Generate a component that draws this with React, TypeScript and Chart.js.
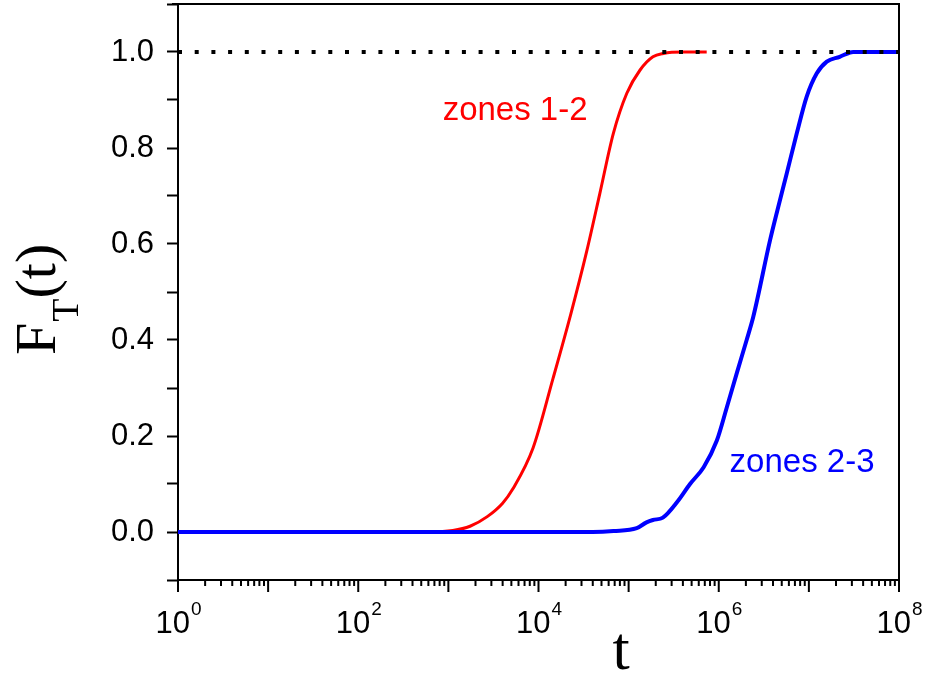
import React, { useEffect, useRef } from "react";
import { Chart, registerables } from "chart.js";
Chart.register(...registerables);

// ---- data ----
const redT = [1, 6.3e2, 1.12e3, 1.74e3, 2.7e3, 4.0e3, 5.2e3, 8.7e3, 1.45e4, 2.29e4, 3.43e4, 4.79e4, 6.76e4, 9.55e4, 1.34e5, 1.86e5, 2.43e5, 3.98e5, 7.35e5];
const redF = [0, 0, 0.003, 0.012, 0.032, 0.06, 0.09, 0.175, 0.32, 0.455, 0.585, 0.705, 0.83, 0.914, 0.9625, 0.99, 0.997, 1.0, 1.0];

const blueT = [1, 4.0e4, 6.8e4, 1.23e5, 1.58e5, 1.86e5, 2.4e5, 3.47e5, 4.8e5, 6.8e5, 9.5e5, 1.23e6, 1.58e6, 2.04e6, 2.42e6, 3.71e6, 4.47e6, 5.68e6, 7.33e6, 9.46e6, 1.22e7, 1.58e7, 2.2e7, 2.86e7, 3.1e7, 1e8];
const blueF = [0, 0, 0.002, 0.008, 0.02, 0.025, 0.03, 0.063, 0.1, 0.135, 0.19, 0.26, 0.33, 0.4, 0.449, 0.608, 0.67, 0.747, 0.83, 0.907, 0.955, 0.98, 0.99, 0.999, 1.0, 1.0];

const refT = [1, 1e8];
const refF = [1, 1];

const yTickValues = [0, 0.2, 0.4, 0.6, 0.8, 1.0];
const xLabelExponents = [0, 2, 4, 6, 8];
const xDecades = [0, 1, 2, 3, 4, 5, 6, 7, 8];
const minorMultipliers = [2, 3, 4, 5, 6, 7, 8, 9];

const annotations = [
  { text: "zones 1-2", t: 5.5e3, f: 0.858, color: "#ff0000" },
  { text: "zones 2-3", t: 8.4e6, f: 0.125, color: "#0000ff" },
];

const SANS = '"Liberation Sans", Arial, sans-serif';
const SERIF = '"Liberation Serif", "Times New Roman", serif';

const decorPlugin = {
  id: "decor",
  afterDatasetsDraw(chart: any) {
    const { ctx, chartArea } = chart;
    const xs = chart.scales.x;
    const ys = chart.scales.y;
    ctx.save();
    // top & right frame
    ctx.strokeStyle = "#000";
    ctx.lineWidth = 2;
    ctx.beginPath();
    ctx.moveTo(chartArea.left - 6, chartArea.top);
    ctx.lineTo(chartArea.right, chartArea.top);
    ctx.lineTo(chartArea.right, chartArea.bottom);
    ctx.stroke();

    // x ticks
    const b = chartArea.bottom;
    ctx.beginPath();
    xDecades.forEach((d) => {
      const px = xs.getPixelForValue(Math.pow(10, d));
      ctx.moveTo(px, b);
      ctx.lineTo(px, b + 12);
      if (d < 8) {
        minorMultipliers.forEach((m) => {
          const mx = xs.getPixelForValue(m * Math.pow(10, d));
          ctx.moveTo(mx, b);
          ctx.lineTo(mx, b + 6);
        });
      }
    });
    ctx.stroke();

    // x labels with superscripts
    ctx.fillStyle = "#000";
    ctx.textBaseline = "alphabetic";
    ctx.textAlign = "left";
    xLabelExponents.forEach((e) => {
      const px = xs.getPixelForValue(Math.pow(10, e));
      ctx.font = `31px ${SANS}`;
      const wBase = ctx.measureText("10").width;
      ctx.font = `19px ${SANS}`;
      const wExp = ctx.measureText(String(e)).width;
      const start = px - (wBase + wExp) / 2;
      ctx.font = `31px ${SANS}`;
      ctx.fillText("10", start, b + 53);
      ctx.font = `19px ${SANS}`;
      ctx.fillText(String(e), start + wBase + 1, b + 35);
    });

    // x title
    ctx.font = `62px ${SERIF}`;
    ctx.textAlign = "center";
    ctx.fillText("t", 621, 669);

    // y title F_T(t)
    ctx.save();
    ctx.translate(55, 355);
    ctx.rotate(-Math.PI / 2);
    ctx.textAlign = "left";
    ctx.font = `58px ${SERIF}`;
    ctx.fillText("F", 0, 0);
    const wF = ctx.measureText("F").width;
    ctx.font = `38px ${SERIF}`;
    ctx.fillText("T", wF + 1, 23);
    const wT = ctx.measureText("T").width;
    ctx.font = `58px ${SERIF}`;
    ctx.fillText("(t)", wF + wT + 1, 0);
    ctx.restore();

    // annotations
    ctx.font = `33px ${SANS}`;
    ctx.textAlign = "center";
    annotations.forEach((a) => {
      ctx.fillStyle = a.color;
      ctx.fillText(a.text, xs.getPixelForValue(a.t), ys.getPixelForValue(a.f));
    });
    ctx.restore();
  },
};

export default function App() {
  const ref = useRef<HTMLCanvasElement | null>(null);
  useEffect(() => {
    if (!ref.current) return;
    const toXY = (ts: number[], fs: number[]) => ts.map((t, i) => ({ x: t, y: fs[i] }));
    const chart = new Chart(ref.current, {
      type: "line",
      data: {
        datasets: [
          {
            data: toXY(refT, refF),
            borderColor: "#000",
            borderWidth: 4,
            borderDash: [4, 12.7],
            pointRadius: 0,
            fill: false,
          },
          {
            data: toXY(blueT, blueF),
            borderColor: "#0000ff",
            borderWidth: 4,
            pointRadius: 0,
            cubicInterpolationMode: "monotone",
            fill: false,
          },
          {
            data: toXY(redT, redF),
            borderColor: "#ff0000",
            borderWidth: 3,
            pointRadius: 0,
            cubicInterpolationMode: "monotone",
            fill: false,
          },
        ],
      },
      options: {
        animation: false,
        responsive: false,
        devicePixelRatio: 1,
        layout: { padding: { top: 4, right: 30, left: 0, bottom: 0 } },
        plugins: { legend: { display: false }, tooltip: { enabled: false } },
        scales: {
          x: {
            type: "logarithmic",
            min: 1,
            max: 1e8,
            grid: { display: false },
            border: { display: true, color: "#000", width: 2 },
            ticks: { display: false },
            afterFit: (s: any) => {
              s.height = 95;
              s.paddingLeft = 0;
              s.paddingRight = 0;
            },
          },
          y: {
            type: "linear",
            min: -0.1,
            max: 1.1,
            grid: {
              drawOnChartArea: false,
              drawTicks: true,
              tickLength: 11,
              tickColor: "#000",
              tickWidth: 2,
            },
            border: { display: true, color: "#000", width: 2 },
            ticks: {
              stepSize: 0.1,
              autoSkip: false,
              padding: 13,
              color: "#000",
              font: { family: SANS, size: 31 },
              callback: (v: any) => {
                const n = Number(v);
                const hit = yTickValues.find((t) => Math.abs(t - n) < 1e-6);
                return hit === undefined ? "" : hit.toFixed(1);
              },
            },
            afterFit: (s: any) => {
              s.width = 178;
              s.paddingTop = 0;
              s.paddingBottom = 0;
            },
          },
        },
      },
      plugins: [decorPlugin],
    } as any);
    return () => chart.destroy();
  }, []);
  return (
    <div style={{ position: "absolute", left: 0, top: 0, width: 929, height: 675, background: "#fff" }}>
      <canvas ref={ref} width={929} height={675} />
    </div>
  );
}
